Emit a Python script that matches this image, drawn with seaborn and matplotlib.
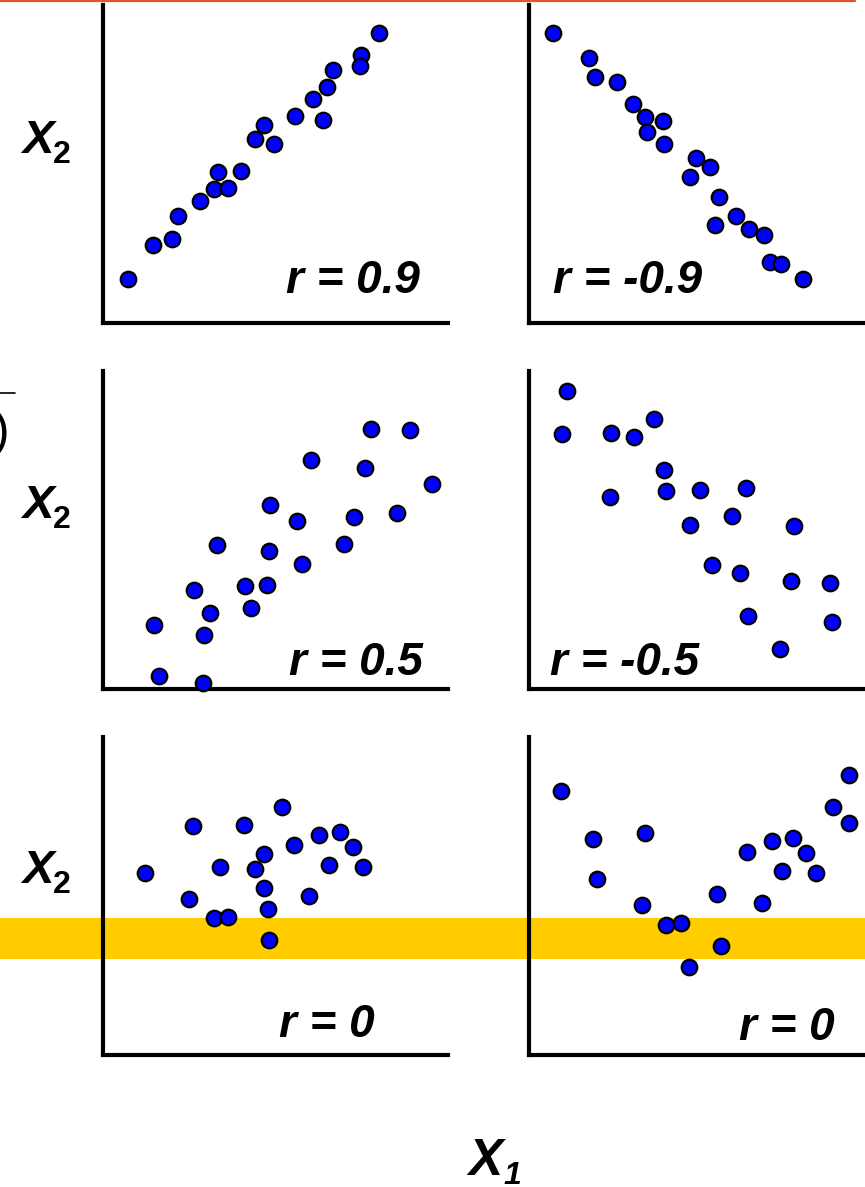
import matplotlib
matplotlib.use("Agg")
import matplotlib.pyplot as plt
import seaborn as sns
import pandas as pd
from matplotlib.lines import Line2D
from matplotlib.patches import Rectangle

# scatter values, in 0-100 units of each panel (x to the right, y upwards)
pos_09_x = [7.2, 14.6, 20.0, 21.7, 28.1, 32.2, 36.1, 33.2, 40.0, 44.0,
            46.8, 49.7, 55.6, 61.0, 63.7, 64.8, 66.8, 74.7, 74.5, 79.9]
pos_09_y = [13.7, 24.5, 26.4, 33.6, 38.4, 42.1, 42.5, 47.6, 47.8, 57.9,
            62.3, 56.2, 65.2, 70.3, 63.7, 74.2, 79.5, 84.3, 80.7, 91.2]

neg_09_x = [7.0, 17.3, 19.2, 25.6, 30.1, 33.7, 38.8, 34.1, 39.0, 48.5,
            52.4, 46.8, 55.2, 60.0, 54.0, 63.8, 68.2, 69.8, 73.0, 79.5]
neg_09_y = [91.3, 83.4, 77.5, 75.9, 69.0, 64.9, 63.5, 60.1, 56.2, 51.9,
            49.2, 45.8, 39.6, 33.7, 30.7, 29.5, 27.6, 19.1, 18.6, 13.7]

pos_05_x = [14.8, 16.3, 29.1, 29.4, 31.0, 26.3, 33.0, 41.2, 43.0, 47.6, 48.1,
            48.4, 56.1, 57.8, 60.4, 69.9, 72.8, 76.0, 77.6, 85.3, 88.9, 95.4]
pos_05_y = [20.1, 4.1, 1.8, 16.9, 23.8, 31.0, 45.3, 32.5, 25.4, 32.6, 43.4,
            57.8, 52.7, 39.3, 72.1, 45.7, 54.2, 69.6, 81.8, 55.3, 81.4, 64.4]

neg_05_x = [11.1, 9.7, 23.8, 30.3, 36.3, 23.6, 39.0, 39.6, 49.7, 62.8,
            46.6, 58.8, 76.9, 53.1, 61.2, 75.9, 87.2, 63.4, 87.7, 72.7]
neg_05_y = [93.6, 80.1, 80.5, 79.2, 85.0, 60.4, 69.0, 62.3, 62.5, 63.3,
            51.7, 54.4, 51.4, 39.1, 36.4, 34.1, 33.4, 23.0, 21.0, 12.5]

zero_a_x = [12.3, 26.2, 24.8, 33.8, 32.1, 36.3, 41.0, 44.0, 46.8, 46.8,
            47.8, 48.0, 51.9, 55.4, 59.7, 62.7, 68.8, 65.6, 72.6, 75.4]
zero_a_y = [57.3, 71.9, 49.2, 59.2, 43.0, 43.3, 72.2, 58.6, 63.1, 52.5,
            45.8, 36.1, 78.1, 66.0, 49.9, 69.1, 70.2, 59.7, 65.4, 59.0]

zero_b_x = [9.3, 18.6, 19.8, 33.6, 32.7, 39.7, 44.0, 46.5, 54.5, 55.7,
            63.1, 67.5, 70.3, 76.5, 73.2, 80.2, 83.1, 88.0, 92.8, 92.8]
zero_b_y = [83.0, 68.0, 55.3, 69.9, 47.2, 40.9, 41.4, 27.8, 50.5, 34.3,
            63.9, 47.9, 67.3, 68.2, 57.8, 63.5, 57.1, 78.1, 73.1, 88.1]

panel_labels = ["r = 0.9", "r = -0.9", "r = 0.5", "r = -0.5", "r = 0", "r = 0"]
y_label = "X"
x_label = "X"

sns.set_style("white")
plt.rcParams['font.family'] = ['Liberation Sans', 'DejaVu Sans']
plt.rcParams['text.color'] = 'black'

W, H = 865, 1187
fig = plt.figure(figsize=(W / 100, H / 100), dpi=100)

panels = [
    (pos_09_x, pos_09_y, 103, 323, 'right'),
    (neg_09_x, neg_09_y, 529, 323, 'left'),
    (pos_05_x, pos_05_y, 103, 689, 'right'),
    (neg_05_x, neg_05_y, 529, 689, 'left'),
    (zero_a_x, zero_a_y, 103, 1055, 'right'),
    (zero_b_x, zero_b_y, 529, 1055, 'right'),
]
text_pos = [(91.9, 9.4), (7.0, 9.4), (92.8, 4.4), (6.1, 4.4), (78.8, 5.7), (88.7, 4.7)]

for i, (xs, ys, px, py, ha) in enumerate(panels):
    ax = fig.add_axes([px / W, 1 - py / H, 345 / W, 318 / H])
    ax.set_facecolor('none')
    df = pd.DataFrame({'x': xs, 'y': ys})
    sns.scatterplot(data=df, x='x', y='y', ax=ax, s=125, color='#0000FF',
                    edgecolor='black', linewidth=1.6, clip_on=False, zorder=3)
    ax.set_xlim(0, 100)
    ax.set_ylim(0, 100)
    ax.set_xticks([])
    ax.set_yticks([])
    ax.set_xlabel('')
    ax.set_ylabel('')
    for s in ['top', 'right']:
        ax.spines[s].set_visible(False)
    for s in ['left', 'bottom']:
        ax.spines[s].set_color('black')
        ax.spines[s].set_linewidth(3)
    tx, ty = text_pos[i]
    ax.text(tx, ty, panel_labels[i], ha=ha, va='baseline', fontsize=33,
            fontweight='bold', fontstyle='italic', color='black')

# X2 labels on the left of each row
for base in [153, 518, 883]:
    fig.text(22 / W, 1 - base / H, y_label, fontsize=34, fontweight='bold',
             fontstyle='italic', ha='left', va='baseline', color='black')
    fig.text(53 / W, 1 - (base + 10) / H, "2", fontsize=23, fontweight='bold',
             ha='left', va='baseline', color='black')

fig.text(468 / W, 1 - 1175 / H, x_label, fontsize=37, fontweight='bold',
         fontstyle='italic', ha='left', va='baseline', color='black')
fig.text(503 / W, 1 - 1184 / H, "1", fontsize=23, fontweight='bold',
         fontstyle='italic', ha='left', va='baseline', color='black')

# clipped piece of a formula at the left edge
fig.text(9 / W, 1 - 433 / H, ")", fontsize=36, ha='right', va='center', color='black')
fig.add_artist(Line2D([0, 15 / W], [1 - 393 / H, 1 - 393 / H], color='black', lw=1.2))

# highlight band and top rule
fig.add_artist(Rectangle((0, 1 - 959 / H), 1, 41 / H, transform=fig.transFigure,
                         facecolor='#FFCC00', edgecolor='none', zorder=-1))
fig.add_artist(Line2D([0, 855 / W], [1 - 1 / H, 1 - 1 / H], color='#E8522A', lw=1.6))

fig.savefig('out.png', dpi=100, facecolor='white')
